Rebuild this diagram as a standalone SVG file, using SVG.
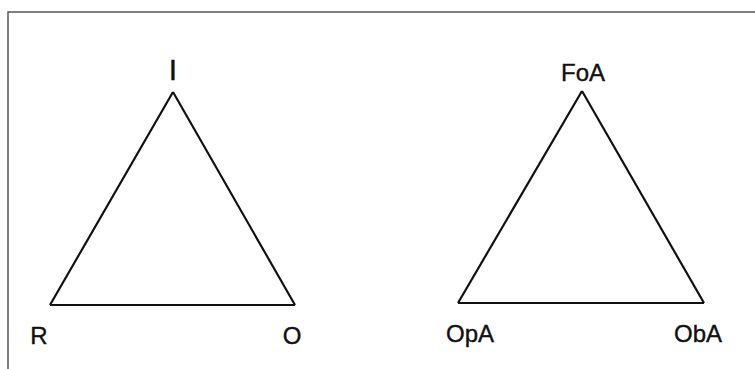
<svg xmlns="http://www.w3.org/2000/svg" width="755" height="369" viewBox="0 0 755 369">
<style>
.lbl{font-family:"Liberation Sans",Arial,sans-serif;font-size:24px;fill:#111;stroke:#111;stroke-width:0.4;text-anchor:middle}
.edge{stroke:#111;stroke-width:2.2;fill:none;stroke-linejoin:miter}
.frame{stroke:#555;stroke-width:1.5;fill:none}
</style>
<rect width="755" height="369" fill="#fff"/>
<path class="frame" d="M8,369 V12 H755"/>
<g id="connectors">
<path class="edge" d="M173,92 L50,305"/>
<path class="edge" d="M173,92 L295,305"/>
<path class="edge" d="M50,305 L295,305"/>
<path class="edge" d="M582,91 L458,303"/>
<path class="edge" d="M582,91 L704,303"/>
<path class="edge" d="M458,303 L704,303"/>
</g>
<g id="node-I"><text class="lbl" x="173" y="80" style="font-size:30px">I</text></g>
<g id="node-R"><text class="lbl" x="39" y="344">R</text></g>
<g id="node-O"><text class="lbl" x="292" y="344">O</text></g>
<g id="node-FoA"><text class="lbl" x="583" y="81">FoA</text></g>
<g id="node-OpA"><text class="lbl" x="470" y="342">OpA</text></g>
<g id="node-ObA"><text class="lbl" x="698" y="342">ObA</text></g>
</svg>
